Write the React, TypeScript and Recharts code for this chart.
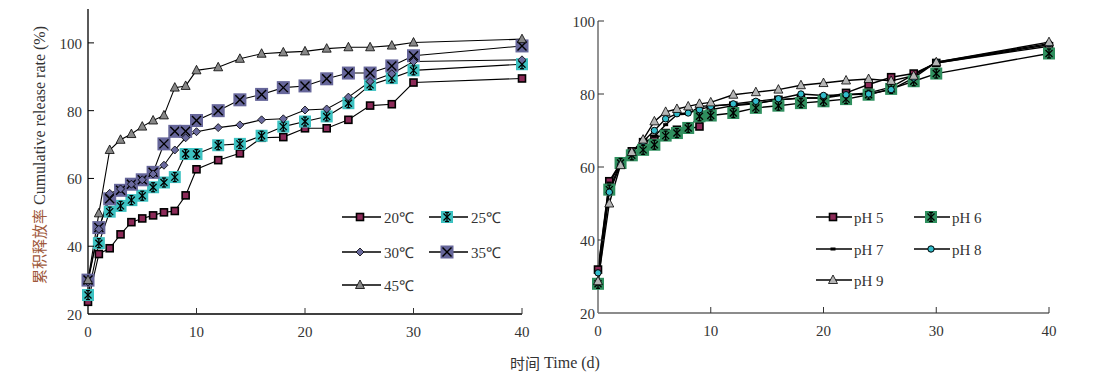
import { LineChart, Line, XAxis, YAxis } from 'recharts';

const TIMES = [0, 1, 2, 3, 4, 5, 6, 7, 8, 9, 10, 12, 14, 16, 18, 20, 22, 24, 26, 28, 30, 40];

// temperature series (left panel)
const T20 = [23.6, 37.7, 39.4, 43.5, 47.1, 48.2, 49.1, 50.0, 50.4, 55.0, 62.7, 65.4, 67.4, 72.0, 72.2, 74.8, 74.8, 77.3, 81.5, 81.9, 88.3, 89.5];
const T25 = [25.6, 40.9, 50.2, 51.9, 53.6, 54.9, 57.4, 58.8, 60.4, 67.2, 67.2, 69.8, 70.2, 72.6, 75.3, 76.8, 78.3, 82.2, 87.6, 89.6, 91.9, 93.7];
const T30 = [29.5, 45.0, 55.6, 56.9, 58.3, 59.6, 61.3, 63.9, 68.4, 72.0, 73.8, 75.0, 75.8, 77.3, 77.6, 80.2, 80.5, 84.0, 88.6, 90.9, 94.5, 95.0];
const T35 = [30.0, 45.5, 54.0, 56.5, 58.3, 59.6, 61.8, 70.2, 73.9, 73.9, 77.1, 80.0, 83.2, 84.8, 86.8, 87.3, 89.4, 91.1, 91.1, 93.2, 96.2, 99.1];
const T45 = [30.0, 49.7, 68.4, 71.4, 73.1, 75.3, 77.1, 78.6, 86.8, 87.3, 91.9, 92.8, 95.3, 96.8, 97.2, 97.5, 98.3, 98.7, 98.7, 99.2, 100.1, 101.1];

// pH series (right panel)
const PH5 = [31.9, 56.1, 61.1, 64.3, 66.8, 67.7, 69.3, 70.2, 70.4, 71.1, 75.7, 76.8, 77.4, 78.4, 78.9, 78.9, 80.3, 82.6, 84.6, 85.6, 88.5, 93.1];
const PH6 = [28.0, 53.8, 61.1, 63.2, 64.7, 66.1, 68.6, 69.3, 70.7, 73.9, 74.1, 74.8, 76.2, 76.8, 77.5, 78.0, 78.6, 79.8, 81.4, 83.5, 85.6, 91.1];
const PH7 = [31.4, 55.6, 60.9, 64.3, 66.4, 68.4, 71.6, 74.3, 74.5, 76.6, 76.8, 77.1, 77.5, 78.4, 78.9, 78.9, 79.8, 80.3, 81.9, 85.3, 88.5, 93.5];
const PH8 = [31.0, 53.1, 60.6, 64.0, 67.0, 70.0, 73.2, 74.6, 74.8, 75.7, 76.6, 77.3, 78.0, 78.7, 80.0, 79.6, 79.8, 80.0, 81.2, 84.4, 88.7, 93.8];
const PH9 = [28.7, 50.0, 60.5, 64.1, 67.5, 72.5, 75.1, 75.9, 76.6, 77.3, 77.7, 79.8, 80.5, 81.2, 82.4, 83.0, 83.7, 84.1, 83.6, 85.0, 88.7, 94.2];

const X_TICKS = [0, 10, 20, 30, 40];
const Y_TICKS = [20, 40, 60, 80, 100];

const tempData = TIMES.map((t, i) => ({ t, c20: T20[i], c25: T25[i], c30: T30[i], c35: T35[i], c45: T45[i] }));
const phData = TIMES.map((t, i) => ({ t, p5: PH5[i], p6: PH6[i], p7: PH7[i], p8: PH8[i], p9: PH9[i] }));

const SERIF = '"Liberation Serif", "Times New Roman", serif';
const CJK = '"Noto Sans CJK SC", sans-serif';

type Kind = 'sq' | 'ast' | 'dia' | 'xsq' | 'tri' | 'ast6' | 'dash' | 'circ' | 'tri9';

function Marker({ kind, cx, cy }: { kind: Kind; cx: number; cy: number }) {
  if (cx == null || cy == null) return null;
  switch (kind) {
    case 'sq':
      return <rect x={cx - 3.5} y={cy - 3.5} width={7} height={7} fill="#8c2a58" stroke="#000" strokeWidth={1.6} />;
    case 'ast':
    case 'ast6': {
      const fill = kind === 'ast' ? '#3cc2c2' : '#2f8f5e';
      const h = 6;
      return (
        <g>
          <rect x={cx - h} y={cy - h} width={h * 2} height={h * 2} fill={fill} />
          <g stroke="#000" strokeWidth={1.3}>
            <line x1={cx} y1={cy - 4.5} x2={cx} y2={cy + 4.5} />
            <line x1={cx - 3.5} y1={cy - 3.5} x2={cx + 3.5} y2={cy + 3.5} />
            <line x1={cx + 3.5} y1={cy - 3.5} x2={cx - 3.5} y2={cy + 3.5} />
            <line x1={cx - 2} y1={cy - 4.5} x2={cx + 2} y2={cy - 4.5} />
            <line x1={cx - 2} y1={cy + 4.5} x2={cx + 2} y2={cy + 4.5} />
          </g>
        </g>
      );
    }
    case 'dia':
      return <polygon points={`${cx},${cy - 4} ${cx + 4},${cy} ${cx},${cy + 4} ${cx - 4},${cy}`} fill="#6a6a9e" stroke="#000" strokeWidth={0.8} />;
    case 'xsq':
      return (
        <g>
          <rect x={cx - 6.5} y={cy - 6.5} width={13} height={13} fill="#66669a" />
          <g stroke="#000" strokeWidth={1.4}>
            <line x1={cx - 4.5} y1={cy - 4.5} x2={cx + 4.5} y2={cy + 4.5} />
            <line x1={cx + 4.5} y1={cy - 4.5} x2={cx - 4.5} y2={cy + 4.5} />
          </g>
        </g>
      );
    case 'tri':
      return <polygon points={`${cx},${cy - 5} ${cx + 4.5},${cy + 3.5} ${cx - 4.5},${cy + 3.5}`} fill="#888" stroke="#000" strokeWidth={0.8} />;
    case 'tri9':
      return <polygon points={`${cx},${cy - 5} ${cx + 4.5},${cy + 3.5} ${cx - 4.5},${cy + 3.5}`} fill="#b5b5b5" stroke="#000" strokeWidth={0.8} />;
    case 'dash':
      return <rect x={cx - 2.5} y={cy - 1.5} width={5} height={3} fill="#000" />;
    case 'circ':
      return <circle cx={cx} cy={cy} r={3.2} fill="#33bccb" stroke="#000" strokeWidth={1} />;
  }
  return null;
}

const dotOf = (kind: Kind) => (p: any) => <Marker key={`${kind}-${p.index}`} kind={kind} cx={p.cx} cy={p.cy} />;

const XTick = (props: any) => {
  const { x, y, payload } = props;
  return (
    <g>
      {payload.value !== 0 && <line x1={x} x2={x} y1={y} y2={y - 6} stroke="#333" />}
      <text x={x} y={y + 18} textAnchor="middle" dominantBaseline="central" fontFamily={SERIF} fontSize={15} fill="#333">
        {payload.value}
      </text>
    </g>
  );
};

const makeYTick = (gap: number, color: string) => (props: any) => {
  const { x, y, payload } = props;
  return (
    <g>
      {payload.value !== 20 && <line x1={x} x2={x + 6} y1={y} y2={y} stroke={color} />}
      <text x={x - gap} y={y + 1} textAnchor="end" dominantBaseline="central" fontFamily={SERIF} fontSize={15} fill="#333">
        {payload.value}
      </text>
    </g>
  );
};

const LEFT_LEGEND: { kind: Kind; label: string; col: number; row: number }[] = [
  { kind: 'sq', label: '20℃', col: 0, row: 0 },
  { kind: 'ast', label: '25℃', col: 1, row: 0 },
  { kind: 'dia', label: '30℃', col: 0, row: 1 },
  { kind: 'xsq', label: '35℃', col: 1, row: 1 },
  { kind: 'tri', label: '45℃', col: 0, row: 2 },
];

const RIGHT_LEGEND: { kind: Kind; label: string; col: number; row: number }[] = [
  { kind: 'sq', label: 'pH 5', col: 0, row: 0 },
  { kind: 'ast6', label: 'pH 6', col: 1, row: 0 },
  { kind: 'dash', label: 'pH 7', col: 0, row: 1 },
  { kind: 'circ', label: 'pH 8', col: 1, row: 1 },
  { kind: 'tri9', label: 'pH 9', col: 0, row: 2 },
];

export default function App() {
  return (
    <div style={{ position: 'absolute', left: 0, top: 0, width: 1102, height: 380, background: '#fff' }}>
      <div style={{ position: 'absolute', left: 0, top: 0 }}>
        <LineChart width={540} height={350} data={tempData} margin={{ top: 9, right: 18, bottom: 0, left: 0 }}>
          <XAxis dataKey="t" type="number" domain={[0, 40]} ticks={X_TICKS} height={36}
            axisLine={{ stroke: '#000', strokeWidth: 1.3 }} tickLine={false} tickSize={0} tickMargin={0} tick={XTick} />
          <YAxis type="number" domain={[20, 110]} ticks={Y_TICKS} width={88} allowDataOverflow
            axisLine={{ stroke: '#000', strokeWidth: 1.3 }} tickLine={false} tickSize={0} tickMargin={0} tick={makeYTick(6, '#000')} />
          <Line dataKey="c20" stroke="#000" strokeWidth={1.1} dot={dotOf('sq')} isAnimationActive={false} />
          <Line dataKey="c25" stroke="#000" strokeWidth={1.1} dot={dotOf('ast')} isAnimationActive={false} />
          <Line dataKey="c35" stroke="#000" strokeWidth={1.1} dot={dotOf('xsq')} isAnimationActive={false} />
          <Line dataKey="c30" stroke="#000" strokeWidth={1.1} dot={dotOf('dia')} isAnimationActive={false} />
          <Line dataKey="c45" stroke="#000" strokeWidth={1.1} dot={dotOf('tri')} isAnimationActive={false} />
        </LineChart>
      </div>
      <div style={{ position: 'absolute', left: 550, top: 0 }}>
        <LineChart width={520} height={350} data={phData} margin={{ top: 21, right: 21, bottom: 0, left: 0 }}>
          <XAxis dataKey="t" type="number" domain={[0, 40]} ticks={X_TICKS} height={37}
            axisLine={{ stroke: '#666', strokeWidth: 1.3 }} tickLine={false} tickSize={0} tickMargin={0} tick={XTick} />
          <YAxis type="number" domain={[20, 100]} ticks={Y_TICKS} width={48}
            axisLine={{ stroke: '#777', strokeWidth: 1.6 }} tickLine={false} tickSize={0} tickMargin={0} tick={makeYTick(3, '#333')} />
          <Line dataKey="p5" stroke="#000" strokeWidth={1.4} dot={dotOf('sq')} isAnimationActive={false} />
          <Line dataKey="p7" stroke="#000" strokeWidth={1.4} dot={dotOf('dash')} isAnimationActive={false} />
          <Line dataKey="p6" stroke="#000" strokeWidth={1.4} dot={dotOf('ast6')} isAnimationActive={false} />
          <Line dataKey="p8" stroke="#000" strokeWidth={1.4} dot={dotOf('circ')} isAnimationActive={false} />
          <Line dataKey="p9" stroke="#000" strokeWidth={1.4} dot={dotOf('tri9')} isAnimationActive={false} />
        </LineChart>
      </div>
      <svg width={1102} height={380} style={{ position: 'absolute', left: 0, top: 0, pointerEvents: 'none' }}>
        <text transform="translate(45,155) rotate(-90)" textAnchor="middle" fontSize={16}>
          <tspan fontFamily={CJK} fill="#a0583a" fontSize={15}>累积释放率</tspan>
          <tspan fontFamily={SERIF} fill="#333"> Cumulative release rate (%)</tspan>
        </text>
        {LEFT_LEGEND.map((it) => {
          const x0 = it.col === 0 ? 342 : 429;
          const y = [217, 252, 285][it.row];
          return (
            <g key={it.label}>
              <line x1={x0} x2={x0 + 39} y1={y} y2={y} stroke="#000" strokeWidth={1.4} />
              <Marker kind={it.kind} cx={x0 + 18} cy={y} />
              <text x={x0 + 42} y={y + 1} dominantBaseline="central" fontFamily={SERIF} fontSize={15} fill="#333">{it.label}</text>
            </g>
          );
        })}
        {RIGHT_LEGEND.map((it) => {
          const x0 = it.col === 0 ? 816 : 914;
          const y = [217, 249, 280][it.row];
          return (
            <g key={it.label}>
              <line x1={x0} x2={x0 + 36} y1={y} y2={y} stroke="#000" strokeWidth={1.4} />
              <Marker kind={it.kind} cx={x0 + 17} cy={y} />
              <text x={x0 + 38} y={y + 1} dominantBaseline="central" fontFamily={SERIF} fontSize={15} fill="#333">{it.label}</text>
            </g>
          );
        })}
        <text x={555} y={362} textAnchor="middle" dominantBaseline="central" fontSize={16} fill="#333">
          <tspan fontFamily={CJK} fontSize={15}>时间</tspan>
          <tspan fontFamily={SERIF}> Time (d)</tspan>
        </text>
      </svg>
    </div>
  );
}
